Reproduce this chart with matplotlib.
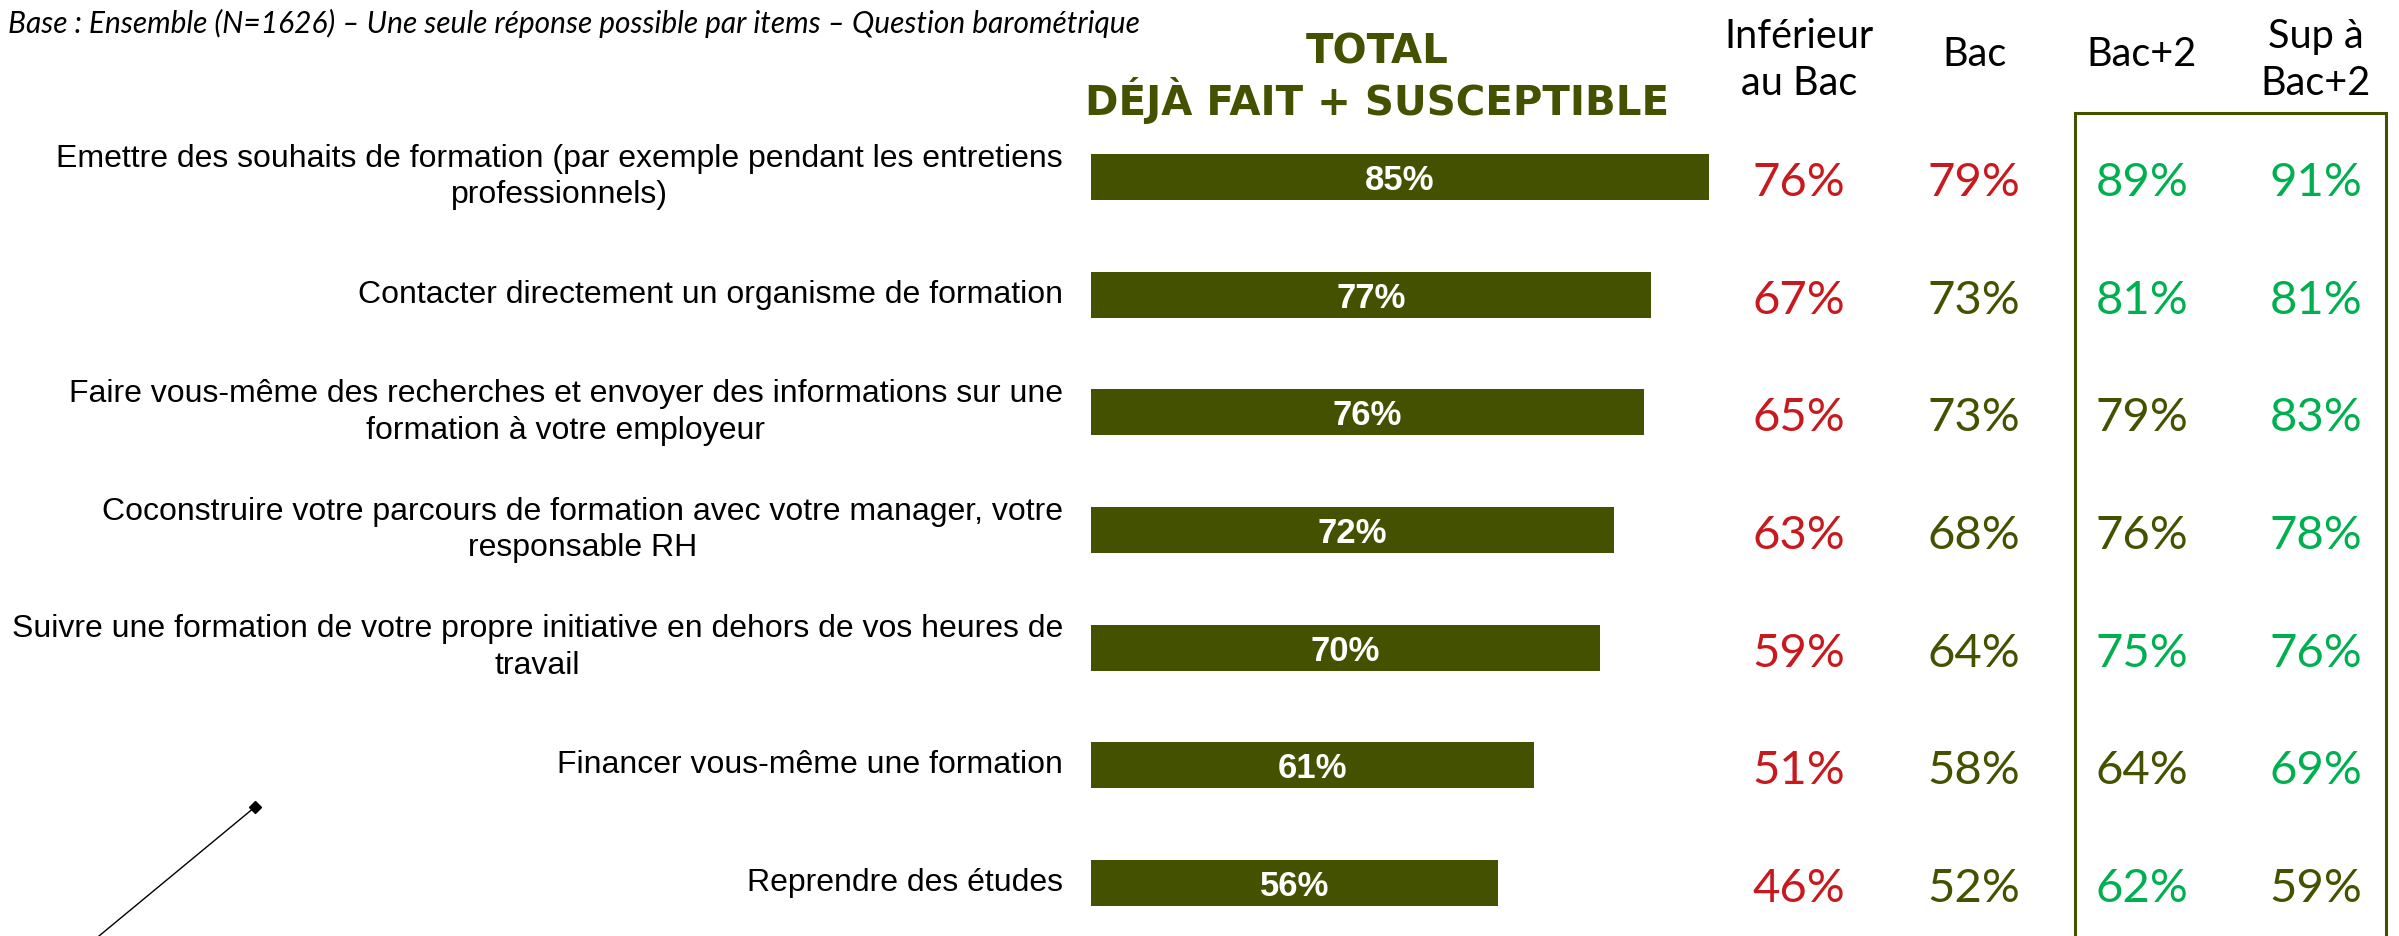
import matplotlib
matplotlib.use("Agg")
import matplotlib.pyplot as plt
from matplotlib import transforms
from matplotlib.patches import Rectangle
from matplotlib.lines import Line2D

# --- data ---
ITEMS = [
    "Emettre des souhaits de formation (par exemple pendant les entretiens\nprofessionnels)",
    "Contacter directement un organisme de formation",
    "Faire vous-même des recherches et envoyer des informations sur une\nformation à votre employeur",
    "Coconstruire votre parcours de formation avec votre manager, votre\nresponsable RH",
    "Suivre une formation de votre propre initiative en dehors de vos heures de\ntravail",
    "Financer vous-même une formation",
    "Reprendre des études",
]
TOTAL = [85, 77, 76, 72, 70, 61, 56]

GROUPS = ["Inférieur\nau Bac", "Bac", "Bac+2", "Sup à\nBac+2"]
INF_BAC = [76, 67, 65, 63, 59, 51, 46]
BAC = [79, 73, 73, 68, 64, 58, 52]
BAC2 = [89, 81, 79, 76, 75, 64, 62]
SUP_BAC2 = [91, 81, 83, 78, 76, 69, 59]
# significance vs total: -1 lower (red), 0 same (olive), +1 higher (green)
SIG_INF = [-1, -1, -1, -1, -1, -1, -1]
SIG_BAC = [-1, 0, 0, 0, 0, 0, 0]
SIG_BAC2 = [1, 1, 0, 0, 1, 0, 1]
SIG_SUP = [1, 1, 1, 1, 1, 1, 0]

SUBTITLE = ("Base : Ensemble (N=1626) – Une seule réponse possible par items – "
            "Question barométrique")

OLIVE = '#445200'
RED = '#C8191E'
GREEN = '#00B050'
SIG_COL = {-1: RED, 0: OLIVE, 1: GREEN}

W, H = 2399, 936
fig = plt.figure(figsize=(W / 100, H / 100), dpi=100)

ax = fig.add_axes([1091 / W, 0, (1818 - 1091) / W, 1])
ypos = list(range(len(ITEMS)))
ax.barh(ypos, TOTAL, height=0.39, color=OLIVE)
ax.set_xlim(0, 100)
ax.set_ylim(6.45, -1.504)
ax.axis('off')

for y, v in zip(ypos, TOTAL):
    ax.text(v / 2, y + 0.03, f'{v}%', ha='center', va='center', color='white',
            fontweight='bold', family='Liberation Sans', fontsize=25)

trans = transforms.blended_transform_factory(fig.transFigure, ax.transData)
for y, lab in zip(ypos, ITEMS):
    fig.text(1063 / W, y, lab, transform=trans, ha='right', va='center',
             multialignment='center', family='Liberation Sans', fontsize=23,
             linespacing=1.3)

cols_x = [1799, 1974, 2142, 2316]
series = [(INF_BAC, SIG_INF), (BAC, SIG_BAC), (BAC2, SIG_BAC2), (SUP_BAC2, SIG_SUP)]
for cx, name, (vals, sig) in zip(cols_x, GROUPS, series):
    ty = 60 if '\n' in name else 54
    fig.text(cx / W, 1 - ty / H, name, ha='center', va='center',
             family='Lato', fontsize=28.5, linespacing=1.36)
    for y, v, s in zip(ypos, vals, sig):
        fig.text(cx / W, y + 0.05, f'{v}%', transform=trans, ha='center',
                 va='center', family='Lato', fontsize=34, color=SIG_COL[s])

fig.text(1377 / W, 1 - 52 / H, "TOTAL", ha='center', va='center',
         family='DejaVu Sans', fontweight='bold', fontsize=29, color=OLIVE)
fig.text(1377 / W, 1 - 101 / H, "DÉJÀ FAIT + SUSCEPTIBLE", ha='center',
         va='center', family='DejaVu Sans', fontweight='bold', fontsize=29,
         color=OLIVE)

fig.text(8 / W, 1 - 23 / H, SUBTITLE, ha='left', va='center',
         family='Lato', style='italic', fontsize=21.5)

# frame around the Bac+2 / Sup a Bac+2 columns
fig.add_artist(Rectangle((2075 / W, -0.05), (2386 - 2075) / W, 0.05 + 1 - 113 / H,
                         transform=fig.transFigure, fill=False,
                         edgecolor=OLIVE, lw=2.2, clip_on=False))

# stray connector line bottom-left
fig.add_artist(Line2D([99 / W, 255 / W], [0, 1 - 807 / H],
                      transform=fig.transFigure, color='black', lw=1))
fig.add_artist(Line2D([255 / W], [1 - 807 / H], transform=fig.transFigure,
                      marker='D', markersize=6, color='black'))

fig.savefig('out.png', dpi=100)
